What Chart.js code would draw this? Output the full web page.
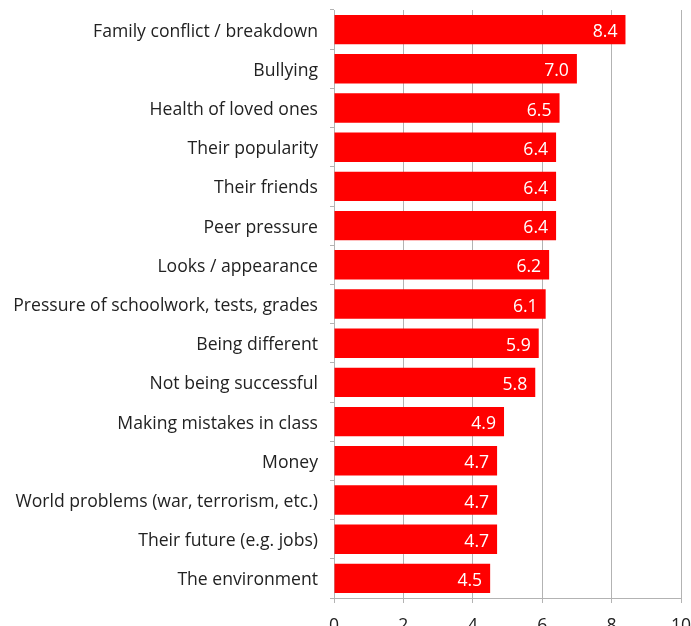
<!DOCTYPE html>
<html>
<head>
<meta charset="utf-8">
<script src="https://cdn.jsdelivr.net/npm/chart.js@4.4.1/dist/chart.umd.min.js"></script>
<style>
  html, body { margin: 0; padding: 0; background: #fff; overflow: hidden; }
  #wrap { position: relative; width: 691px; height: 640px; }
</style>
</head>
<body>
<div id="wrap"><canvas id="chart"></canvas></div>
<script>
const worries = [
  'Family conflict / breakdown',
  'Bullying',
  'Health of loved ones',
  'Their popularity',
  'Their friends',
  'Peer pressure',
  'Looks / appearance',
  'Pressure of schoolwork, tests, grades',
  'Being different',
  'Not being successful',
  'Making mistakes in class',
  'Money',
  'World problems (war, terrorism, etc.)',
  'Their future (e.g. jobs)',
  'The environment'
];
const scores = [8.4, 7.0, 6.5, 6.4, 6.4, 6.4, 6.2, 6.1, 5.9, 5.8, 4.9, 4.7, 4.7, 4.7, 4.5];
const xTicks = [0, 2, 4, 6, 8, 10];

const FONT = '"Open Sans", sans-serif';
const FONT_SIZE = 17.6;
const gridGrey = '#b3b3b3';

// white value text inside the end of each bar
const barValues = {
  id: 'barValues',
  afterDatasetsDraw(chart) {
    const ctx = chart.ctx;
    const meta = chart.getDatasetMeta(0);
    ctx.save();
    ctx.font = FONT_SIZE + 'px ' + FONT;
    ctx.fillStyle = '#ffffff';
    ctx.textAlign = 'right';
    ctx.textBaseline = 'middle';
    meta.data.forEach((bar, i) => {
      ctx.fillText(scores[i].toFixed(1), bar.x - 8, bar.y + 2.5);
    });
    ctx.restore();
  }
};

new Chart(document.getElementById('chart'), {
  type: 'bar',
  data: {
    labels: worries,
    datasets: [{
      data: scores,
      backgroundColor: '#ff0000',
      borderWidth: 0,
      categoryPercentage: 0.75,
      barPercentage: 1.0
    }]
  },
  options: {
    indexAxis: 'y',
    responsive: true,
    maintainAspectRatio: false,
    animation: false,
    layout: { padding: { top: 10, right: 10, left: 0, bottom: 0 } },
    plugins: {
      legend: { display: false },
      tooltip: { enabled: false }
    },
    scales: {
      x: {
        min: 0,
        max: 10,
        afterBuildTicks: (scale) => { scale.ticks = xTicks.map(v => ({ value: v })); },
        afterFit: (scale) => {
          scale.height = 42;
          scale.paddingLeft = 0;
          scale.paddingRight = 0;
        },
        grid: { color: gridGrey, lineWidth: 1, tickLength: 5, drawTicks: true },
        border: { color: gridGrey, width: 1 },
        ticks: { color: '#222', padding: 12, font: { family: FONT, size: FONT_SIZE } }
      },
      y: {
        afterFit: (scale) => {
          scale.width = 334;
          scale.paddingTop = 0;
          scale.paddingBottom = 0;
        },
        grid: { drawOnChartArea: false, offset: true, color: gridGrey, tickLength: 4 },
        border: { color: gridGrey, width: 1 },
        ticks: { color: '#222', padding: 12, labelOffset: 2, font: { family: FONT, size: FONT_SIZE } }
      }
    }
  },
  plugins: [barValues]
});
</script>
</body>
</html>
